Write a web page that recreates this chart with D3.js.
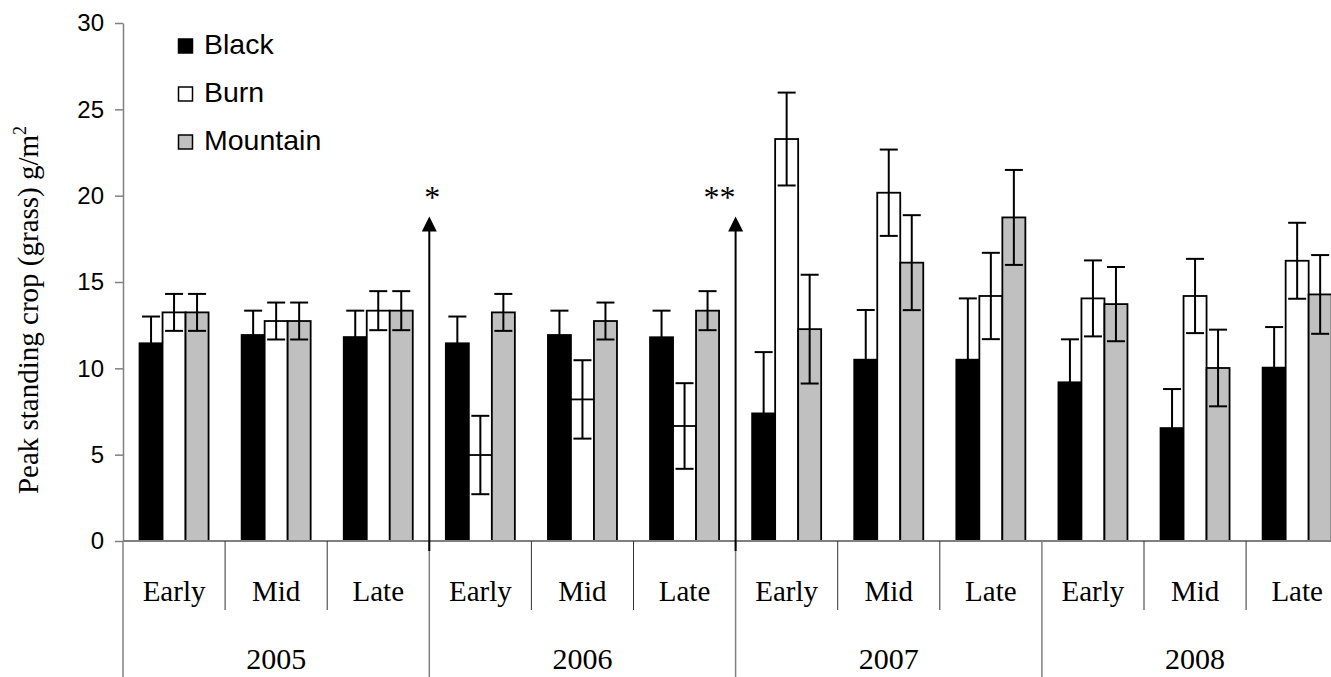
<!DOCTYPE html>
<html>
<head>
<meta charset="utf-8">
<script src="https://cdn.jsdelivr.net/npm/d3@7"></script>
<style>
  html, body { margin: 0; padding: 0; background: #fff; overflow: hidden; }
  svg { display: block; }
</style>
</head>
<body>
<svg id="chart" width="1331" height="677"></svg>
<script>
// Peak standing crop of grass by season and year, three treatments.
const years = ["2005", "2006", "2007", "2008"];
const seasons = ["Early", "Mid", "Late"];
const series = ["Black", "Burn", "Mountain"];

const blackValues   = [11.45, 11.93, 11.81, 11.45, 11.93, 11.80, 7.39, 10.50, 10.50, 9.19, 6.54, 10.04];
const blackErrors   = [1.55, 1.41, 1.53, 1.55, 1.41, 1.54, 3.55, 2.88, 3.55, 2.49, 2.26, 2.35];
const burnValues    = [13.24, 12.74, 13.34, 4.98, 8.20, 6.66, 23.28, 20.17, 14.19, 14.05, 14.19, 16.23];
const burnErrors    = [1.07, 1.07, 1.13, 2.27, 2.27, 2.48, 2.69, 2.50, 2.50, 2.20, 2.15, 2.20];
const mountainValues = [13.24, 12.74, 13.34, 13.24, 12.74, 13.34, 12.27, 16.12, 18.74, 13.72, 10.02, 14.28];
const mountainErrors = [1.07, 1.07, 1.13, 1.07, 1.07, 1.13, 3.15, 2.75, 2.75, 2.15, 2.22, 2.28];

const yTicks = [0, 5, 10, 15, 20, 25, 30];

// Treatment change markers drawn between years
const markers = [
  { boundary: 3, label: "*", top: 18.8 },
  { boundary: 6, label: "**", top: 18.8 }
];

const fills = { Black: "#000000", Burn: "#ffffff", Mountain: "#c0c0c0" };
const valuesBySeries = { Black: blackValues, Burn: burnValues, Mountain: mountainValues };
const errorsBySeries = { Black: blackErrors, Burn: burnErrors, Mountain: mountainErrors };

const svg = d3.select("#chart");
const left = 123, plotTop = 23, baseY = 541;
const catWidth = 102.1;
const right = left + catWidth * 12;

const catKeys = [];
years.forEach(y => seasons.forEach(s => catKeys.push(y + "-" + s)));

const x = d3.scaleBand().domain(catKeys).range([left, right]).padding(0);
const xs = d3.scaleBand().domain(series)
  .range([x.bandwidth() * 0.162, x.bandwidth() * 0.838]).padding(0);
const y = d3.scaleLinear().domain([0, 30]).range([baseY, plotTop]);

const rows = [];
catKeys.forEach((k, i) => series.forEach(s => {
  rows.push({ cat: k, series: s, value: valuesBySeries[s][i], err: errorsBySeries[s][i] });
}));

const serif = "'Liberation Serif', 'Times New Roman', serif";
const sans = "'Liberation Sans', Arial, sans-serif";

// Bars
svg.append("g").selectAll("rect").data(rows).join("rect")
  .attr("x", d => x(d.cat) + xs(d.series))
  .attr("y", d => y(d.value))
  .attr("width", xs.bandwidth())
  .attr("height", d => y(0) - y(d.value))
  .attr("fill", d => fills[d.series])
  .attr("stroke", "#000")
  .attr("stroke-width", 1.8);

// Error bars
const cap = 9;
const eg = svg.append("g").attr("stroke", "#000").attr("stroke-width", 2);
rows.forEach(d => {
  const cx = x(d.cat) + xs(d.series) + xs.bandwidth() / 2;
  const hi = y(d.value + d.err), lo = y(d.value - d.err);
  eg.append("line").attr("x1", cx).attr("x2", cx).attr("y1", hi).attr("y2", lo);
  eg.append("line").attr("x1", cx - cap).attr("x2", cx + cap).attr("y1", hi).attr("y2", hi);
  eg.append("line").attr("x1", cx - cap).attr("x2", cx + cap).attr("y1", lo).attr("y2", lo);
});

// Y axis
const yAxis = svg.append("g")
  .attr("transform", `translate(${left},0)`)
  .call(d3.axisLeft(y).tickValues(yTicks).tickSize(8).tickSizeOuter(0).tickPadding(11));
yAxis.select(".domain").attr("stroke", "#808080").attr("stroke-width", 1.5);
yAxis.selectAll(".tick line").attr("stroke", "#808080").attr("stroke-width", 1.5);
yAxis.selectAll(".tick text")
  .attr("font-family", sans).attr("font-size", 24).attr("fill", "#000");

// Category axis
svg.append("line")
  .attr("x1", left).attr("x2", right).attr("y1", baseY).attr("y2", baseY)
  .attr("stroke", "#808080").attr("stroke-width", 2);

catKeys.forEach((k, i) => {
  if (i % 3 === 0) return;
  svg.append("line")
    .attr("x1", x(k)).attr("x2", x(k)).attr("y1", baseY).attr("y2", 610)
    .attr("stroke", "#333").attr("stroke-width", 1);
});
for (let b = 0; b <= 12; b += 3) {
  const bx = left + b * x.step();
  svg.append("line")
    .attr("x1", bx).attr("x2", bx).attr("y1", baseY).attr("y2", 677)
    .attr("stroke", "#808080").attr("stroke-width", 1.5);
}

svg.append("g").selectAll("text").data(catKeys).join("text")
  .attr("x", d => x(d) + x.bandwidth() / 2)
  .attr("y", 601)
  .attr("text-anchor", "middle")
  .attr("font-family", serif).attr("font-size", 29)
  .text(d => d.split("-")[1]);

svg.append("g").selectAll("text").data(years).join("text")
  .attr("x", (d, i) => left + (i * 3 + 1.5) * x.step())
  .attr("y", 669)
  .attr("text-anchor", "middle")
  .attr("font-family", serif).attr("font-size", 30)
  .text(d => d);

// Y axis title
const title = svg.append("text")
  .attr("transform", "translate(38,310) rotate(-90)")
  .attr("text-anchor", "middle")
  .attr("font-family", serif).attr("font-size", 29);
title.append("tspan").text("Peak standing crop (grass) g/m");
title.append("tspan").attr("font-size", 18).attr("dy", -12).text("2");

// Markers: arrows with asterisks
markers.forEach(m => {
  const mx = left + m.boundary * x.step();
  const tipY = y(m.top);
  svg.append("line")
    .attr("x1", mx).attr("x2", mx).attr("y1", 551).attr("y2", tipY + 12)
    .attr("stroke", "#000").attr("stroke-width", 2);
  svg.append("path")
    .attr("d", `M${mx},${tipY} L${mx - 7.5},${tipY + 15} L${mx + 7.5},${tipY + 15} Z`)
    .attr("fill", "#000");
  svg.append("text")
    .attr("x", m.label.length === 1 ? mx + 3 : mx - 16)
    .attr("y", tipY - 8)
    .attr("text-anchor", "middle")
    .attr("font-family", serif).attr("font-size", 32)
    .text(m.label);
});

// Legend
const legend = svg.append("g");
series.forEach((s, i) => {
  const ly = 39 + i * 48;
  legend.append("rect")
    .attr("x", 178.5).attr("y", ly).attr("width", 14).attr("height", 14)
    .attr("fill", fills[s]).attr("stroke", "#000").attr("stroke-width", 1.5);
  legend.append("text")
    .attr("x", 204).attr("y", ly + 15)
    .attr("font-family", sans).attr("font-size", 28.5)
    .text(s);
});
</script>
</body>
</html>
